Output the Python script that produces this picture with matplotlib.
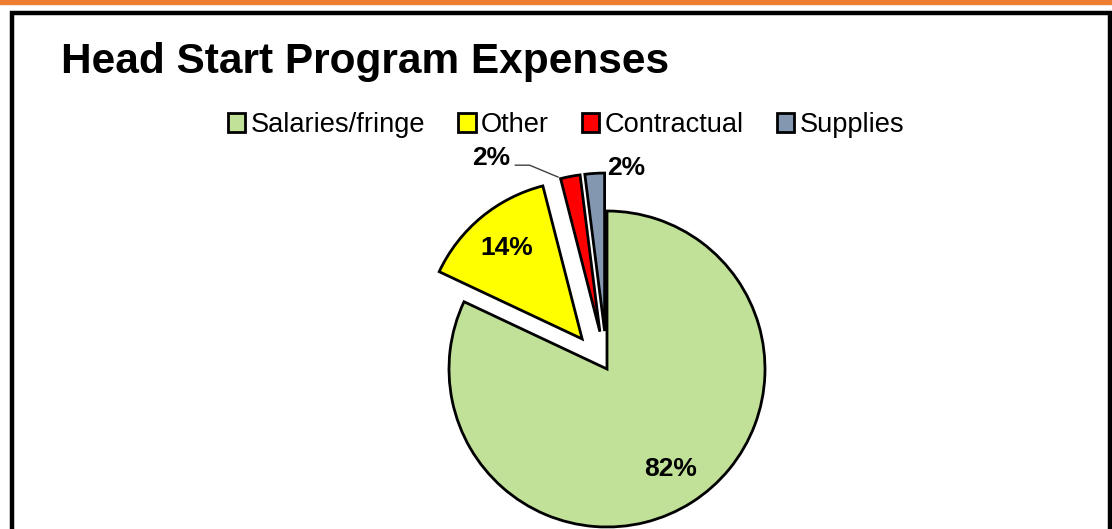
import matplotlib.pyplot as plt
from matplotlib.patches import Rectangle

plt.rcParams['font.family'] = ['Liberation Sans', 'DejaVu Sans']

categories = ["Salaries/fringe", "Other", "Contractual", "Supplies"]
shares = [82, 14, 2, 2]
colors = ["#C0E197", "#FFFF00", "#FF0000", "#8497B0"]

W, H = 1112, 529
fig = plt.figure(figsize=(W / 100, H / 100), dpi=100)

# whole-figure axes in pixel units so the pie sits where it should
ax = fig.add_axes([0, 0, 1, 1])
cx, cy, R = 607, 160, 158
explode = [0, 39, 38, 38]

wedges, texts, autotexts = ax.pie(
    shares, colors=colors, explode=explode, startangle=90, counterclock=False,
    center=(cx, cy), radius=R, autopct="%d%%", pctdistance=0.75,
    wedgeprops=dict(edgecolor="black", linewidth=2),
    textprops=dict(fontsize=19, fontweight="bold", color="black"))
ax.set_xlim(0, W)
ax.set_ylim(0, H)
ax.set_aspect("equal")
ax.axis("off")

# small slices: labels outside, one with a leader line
autotexts[2].set_position((cx - 0.73 * R, cy + 1.335 * R))
autotexts[3].set_position((cx + 0.12 * R, cy + 1.27 * R))
ax.plot([cx - 0.58 * R, cx - 0.49 * R, cx - 0.31 * R],
        [cy + 1.29 * R, cy + 1.29 * R, cy + 1.215 * R], color="#404040", lw=1)

fig.text(61 / W, 1 - 62 / H, "Head Start Program Expenses", fontsize=30.5,
         fontweight="bold", ha="left", va="center")

fig.legend(wedges, categories, loc="center", bbox_to_anchor=(566 / W, 1 - 125 / H),
           ncol=4, frameon=False, fontsize=19.6, handlelength=0.65, handleheight=0.65,
           handletextpad=0.2, columnspacing=1.2, borderaxespad=0)

# orange top rule and black frame
fig.patches.append(Rectangle((0, 1 - 4 / H), 1, 4 / H, transform=fig.transFigure,
                             color="#ED7D31", zorder=0))
fig.patches.append(Rectangle((12 / W, -0.05), (1110 - 12) / W, 1.05 - 13 / H,
                             transform=fig.transFigure, fill=False,
                             edgecolor="black", linewidth=3.2, zorder=0))

fig.savefig("out.png", dpi=100)
